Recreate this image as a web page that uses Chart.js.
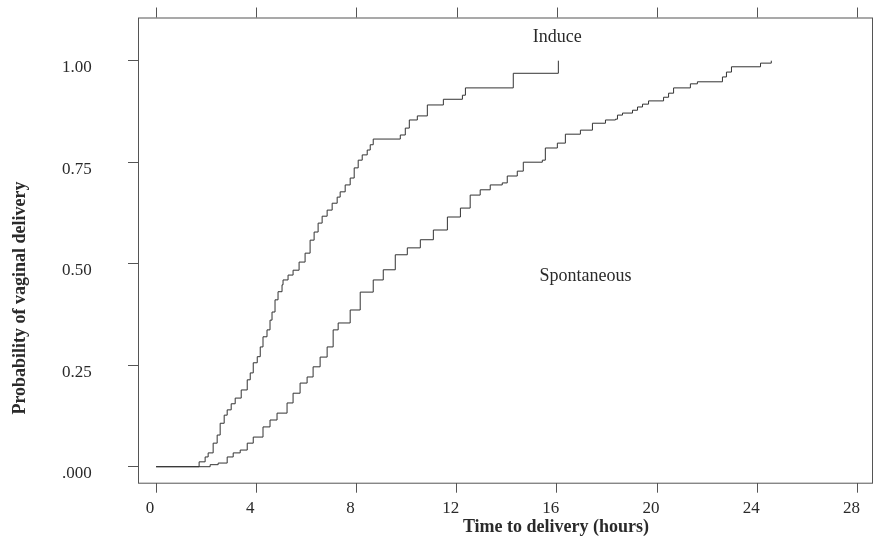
<!DOCTYPE html>
<html>
<head>
<meta charset="utf-8">
<script src="https://cdn.jsdelivr.net/npm/chart.js@4.4.1/dist/chart.umd.min.js"></script>
<style>
  body { margin: 0; background: #fff; }
  #wrap { width: 874px; height: 536px; }
</style>
</head>
<body>
<div id="wrap"><canvas id="kmChart" width="874" height="536"></canvas></div>
<script>
// Cumulative probability of vaginal delivery
const induceTime = [0, 1.63, 1.72, 1.96, 2.08, 2.28, 2.44, 2.56, 2.72, 2.84, 3.00, 3.16, 3.40, 3.64,
    3.76, 3.88, 4.04, 4.16, 4.27, 4.43, 4.55, 4.63, 4.75, 4.87, 5.03, 5.07, 5.27, 5.47, 5.71, 5.95,
    6.15, 6.31, 6.47, 6.63, 6.83, 7.03, 7.23, 7.35, 7.55, 7.75, 7.91, 8.07, 8.23, 8.43, 8.55, 8.67,
    9.75, 9.95, 10.11, 10.43, 10.83, 11.47, 12.23, 12.35, 14.26, 16.06];
const induceProb = [0, 0, 0.012, 0.024, 0.034, 0.058, 0.078, 0.107, 0.127, 0.140, 0.155, 0.169, 0.189, 0.214,
    0.231, 0.256, 0.271, 0.295, 0.320, 0.337, 0.361, 0.381, 0.411, 0.431, 0.448, 0.460, 0.472, 0.484, 0.504, 0.526,
    0.558, 0.578, 0.600, 0.617, 0.632, 0.649, 0.664, 0.677, 0.694, 0.711, 0.736, 0.755, 0.768, 0.780, 0.793, 0.807,
    0.817, 0.834, 0.854, 0.864, 0.891, 0.905, 0.915, 0.933, 0.969, 1.0];

const spontTime = [0, 2.16, 2.48, 2.84, 3.08, 3.36, 3.64, 3.88, 4.27, 4.55, 4.83, 5.23, 5.47, 5.75, 6.03,
    6.27, 6.55, 6.83, 7.07, 7.27, 7.75, 8.15, 8.67, 9.07, 9.55, 10.03, 10.55, 11.07, 11.63, 12.15,
    12.54, 12.94, 13.34, 13.82, 14.02, 14.42, 14.66, 15.42, 15.54, 16.02, 16.34, 16.94, 17.42, 17.94,
    18.34, 18.42, 18.62, 19.02, 19.22, 19.42, 19.66, 20.26, 20.46, 20.66, 21.33, 21.61, 22.61, 22.77,
    22.97, 24.13, 24.56];
const spontProb = [0, 0.005, 0.009, 0.024, 0.034, 0.041, 0.058, 0.073, 0.098, 0.115, 0.132, 0.157, 0.181, 0.206, 0.221,
    0.246, 0.270, 0.295, 0.337, 0.354, 0.386, 0.430, 0.460, 0.485, 0.522, 0.539, 0.559, 0.583, 0.615, 0.637,
    0.669, 0.682, 0.694, 0.699, 0.716, 0.728, 0.750, 0.755, 0.785, 0.797, 0.819, 0.829, 0.846, 0.854,
    0.856, 0.866, 0.871, 0.878, 0.886, 0.893, 0.901, 0.910, 0.920, 0.933, 0.943, 0.948, 0.960, 0.972,
    0.985, 0.994, 1.0];

const xTicks = [0, 4, 8, 12, 16, 20, 24, 28];
const yTicks = [0, 0.25, 0.5, 0.75, 1];
const yTickLabels = ['.000', '0.25', '0.50', '0.75', '1.00'];

const xTitle = 'Time to delivery (hours)';
const yTitle = 'Probability of vaginal delivery';
const curveLabels = ['Induce', 'Spontaneous'];

const serif = '"Liberation Serif", "DejaVu Serif", serif';
const ink = '#2a2a2a';

function toPoints(xs, ys) {
    return xs.map((x, i) => ({ x: x, y: ys[i] }));
}

// frame, top ticks, titles and curve labels
const framePlugin = {
    id: 'frame',
    afterDraw(chart) {
        const { ctx, chartArea: a, scales } = chart;
        ctx.save();
        ctx.strokeStyle = '#555';
        ctx.lineWidth = 1;
        ctx.strokeRect(a.left + 0.5, a.top + 0.5, a.right - a.left - 1, a.bottom - a.top);
        // ticks along the top edge
        ctx.beginPath();
        xTicks.forEach(v => {
            const px = Math.round(scales.x.getPixelForValue(v)) + 0.5;
            ctx.moveTo(px, a.top);
            ctx.lineTo(px, a.top - 10);
        });
        ctx.stroke();

        ctx.fillStyle = ink;
        ctx.font = 'bold 18px ' + serif;
        ctx.textAlign = 'center';
        ctx.textBaseline = 'alphabetic';
        ctx.fillText(xTitle, 556, 532);

        ctx.save();
        ctx.translate(25, 298);
        ctx.rotate(-Math.PI / 2);
        ctx.fillText(yTitle, 0, 0);
        ctx.restore();

        ctx.font = '18px ' + serif;
        ctx.fillText(curveLabels[0], scales.x.getPixelForValue(16.02), scales.y.getPixelForValue(1.047));
        ctx.fillText(curveLabels[1], scales.x.getPixelForValue(17.14), scales.y.getPixelForValue(0.457));
        ctx.restore();
    }
};

const ctx = document.getElementById('kmChart').getContext('2d');
new Chart(ctx, {
    type: 'line',
    data: {
        datasets: [{
            label: curveLabels[0],
            data: toPoints(induceTime, induceProb),
            stepped: true,
            borderColor: '#333',
            borderWidth: 1,
            pointRadius: 0,
            fill: false
        }, {
            label: curveLabels[1],
            data: toPoints(spontTime, spontProb),
            stepped: true,
            borderColor: '#333',
            borderWidth: 1,
            pointRadius: 0,
            fill: false
        }]
    },
    options: {
        responsive: false,
        animation: false,
        events: [],
        layout: { padding: { top: 17.5, right: 1, left: 62, bottom: 0 } },
        plugins: {
            legend: { display: false },
            tooltip: { enabled: false }
        },
        scales: {
            x: {
                type: 'linear',
                min: -0.72,
                max: 28.62,
                afterBuildTicks: scale => { scale.ticks = xTicks.map(v => ({ value: v })); },
                afterFit: scale => { scale.height = 53.3; },
                border: { display: false },
                grid: { drawOnChartArea: false, drawTicks: true, tickLength: 10, color: '#555' },
                ticks: {
                    color: ink,
                    font: { family: serif, size: 17 },
                    padding: 6,
                    labelOffset: -6,
                    maxRotation: 0,
                    autoSkip: false
                }
            },
            y: {
                type: 'linear',
                min: -0.0394,
                max: 1.1064,
                afterBuildTicks: scale => { scale.ticks = yTicks.map(v => ({ value: v })); },
                afterFit: scale => { scale.width = 76; },
                border: { display: false },
                grid: { drawOnChartArea: false, drawTicks: true, tickLength: 10, color: '#555' },
                ticks: {
                    color: ink,
                    font: { family: serif, size: 17 },
                    padding: 0,
                    crossAlign: 'far',
                    labelOffset: 7,
                    autoSkip: false,
                    callback: (value) => {
                        const i = yTicks.indexOf(value);
                        return i >= 0 ? yTickLabels[i] : '';
                    }
                }
            }
        }
    },
    plugins: [framePlugin]
});
</script>
</body>
</html>
